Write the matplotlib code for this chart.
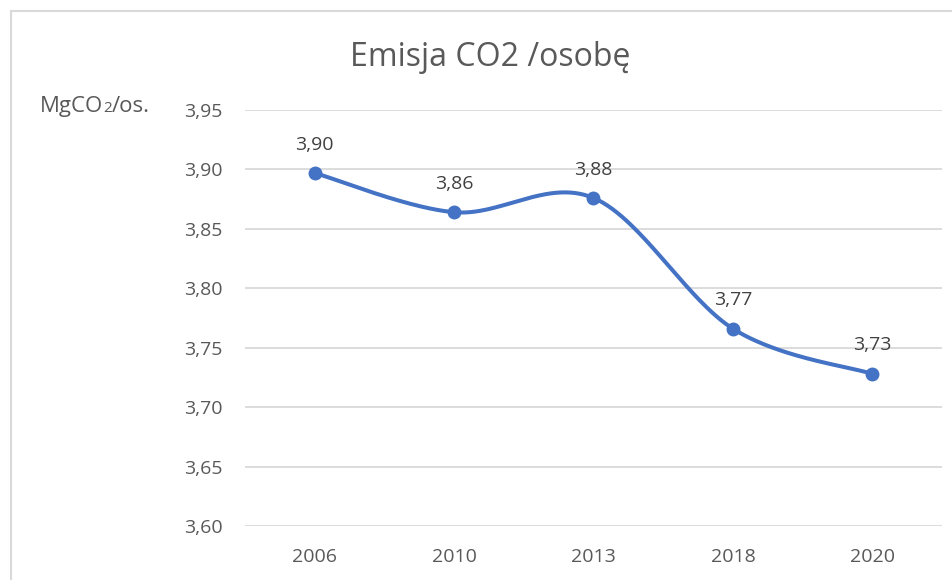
import numpy as np
import matplotlib
matplotlib.use("Agg")
import matplotlib.pyplot as plt
from matplotlib.patches import Rectangle

years = ["2006", "2010", "2013", "2018", "2020"]
values = [3.897, 3.864, 3.876, 3.766, 3.728]
value_labels = ["3,90", "3,86", "3,88", "3,77", "3,73"]
yticks = [3.60, 3.65, 3.70, 3.75, 3.80, 3.85, 3.90, 3.95]
ytick_labels = ["3,60", "3,65", "3,70", "3,75", "3,80", "3,85", "3,90", "3,95"]
title = "Emisja CO2 /osobę"

plt.rcParams['font.family'] = ['Open Sans', 'DejaVu Sans']
TXT = "#595959"
LINE = "#4472C4"
GRID = "#D9D9D9"

fig = plt.figure(figsize=(9.52, 5.8), dpi=100)
ax = fig.add_axes([245/952, 1-526/580, (942-245)/952, (526-110)/580])

# Excel-like smoothing (Catmull-Rom via cubic Bezier)
x = np.arange(len(values), dtype=float)
y = np.array(values)
P = np.column_stack([x, y])
curve = []
for i in range(len(P)-1):
    p0 = P[i-1] if i > 0 else P[i]
    p1 = P[i]
    p2 = P[i+1]
    p3 = P[i+2] if i+2 < len(P) else P[i+1]
    c1 = p1 + (p2 - p0)/6
    c2 = p2 - (p3 - p1)/6
    t = np.linspace(0, 1, 60)[:, None]
    seg = (1-t)**3*p1 + 3*(1-t)**2*t*c1 + 3*(1-t)*t**2*c2 + t**3*p2
    curve.append(seg if i == 0 else seg[1:])
curve = np.vstack(curve)

ax.plot(curve[:, 0], curve[:, 1], color=LINE, lw=2.9, solid_capstyle='round', zorder=3)
ax.plot(x, y, 'o', color=LINE, ms=9, zorder=4)
for xi, yi, lab in zip(x, y, value_labels):
    ax.annotate(lab, (xi, yi), xytext=(0, 14), textcoords='offset points',
                ha='center', va='bottom', fontsize=14, color="#404040")

ax.set_xlim(-0.5, len(values)-0.5)
ax.set_ylim(3.60, 3.95)
ax.set_yticks(yticks)
ax.set_yticklabels(ytick_labels)
ax.set_xticks(x)
ax.set_xticklabels(years)
ax.tick_params(axis='both', length=0, labelsize=14, colors=TXT)
ax.tick_params(axis='y', pad=16)
ax.tick_params(axis='x', pad=16)
ax.grid(axis='y', color=GRID, lw=1.3)
ax.set_axisbelow(True)
for s in ax.spines.values():
    s.set_visible(False)

fig.text(490/952, 1-58/580, title, ha='center', va='center', fontsize=23, color=TXT)

# y-axis unit label with small "2"
fig.canvas.draw()
r = fig.canvas.get_renderer()
t1 = fig.text(40/952, 1-112/580, "MgCO", ha='left', va='baseline', fontsize=16, color=TXT)
bb = t1.get_window_extent(r)
t2 = fig.text((bb.x1 - 0.5)/952, 1-112/580, "2", ha='left', va='baseline', fontsize=11, color=TXT)
bb2 = t2.get_window_extent(r)
fig.text((bb2.x1 + 0.5)/952, 1-112/580, "/os.", ha='left', va='baseline', fontsize=16, color=TXT)

fig.patches.append(Rectangle((11/952, -0.1), 2.0, 1.1-11/580, transform=fig.transFigure,
                             fill=False, edgecolor=GRID, lw=1.5))

fig.savefig("out.png", dpi=100, facecolor="white")
